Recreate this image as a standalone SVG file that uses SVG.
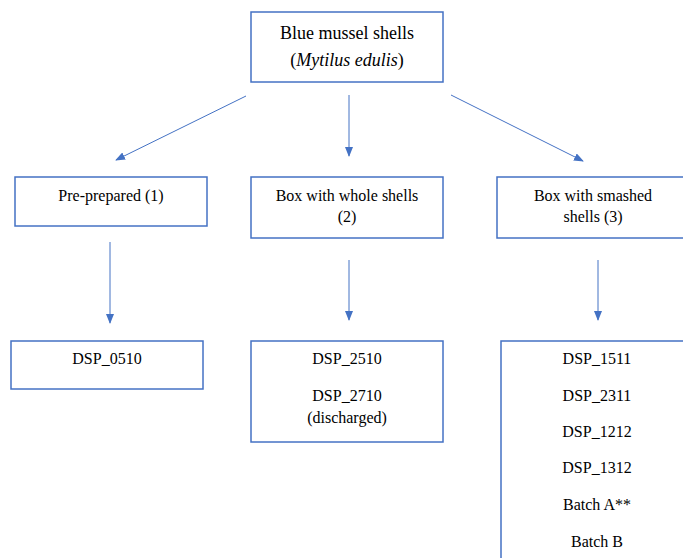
<svg xmlns="http://www.w3.org/2000/svg" width="683" height="558" viewBox="0 0 683 558">
<defs>
<marker id="ah" markerWidth="10" markerHeight="8" refX="9" refY="4" orient="auto" markerUnits="userSpaceOnUse">
<path d="M0,0 L10,4 L0,8 Z" fill="#4472C4"/>
</marker>
</defs>
<rect width="683" height="558" fill="#fff"/>
<g id="connectors" stroke="#4472C4" stroke-width="1" fill="none" marker-end="url(#ah)">
<line x1="246" y1="96" x2="116" y2="160"/>
<line x1="349" y1="95" x2="349" y2="156"/>
<line x1="451" y1="95" x2="583" y2="161"/>
<line x1="110" y1="242" x2="110" y2="323"/>
<line x1="349" y1="260" x2="349" y2="320"/>
<line x1="598" y1="260" x2="598" y2="320"/>
</g>
<g fill="#fff" stroke="#4472C4" stroke-width="1.5">
<rect id="root-box" x="251" y="12" width="192" height="70"/>
<rect id="pre-box" x="15" y="177" width="192" height="49"/>
<rect id="whole-box" x="251" y="177" width="192" height="61"/>
<rect id="smashed-box" x="497" y="177" width="200" height="61"/>
<rect id="dsp0510-box" x="11" y="341" width="192" height="48"/>
<rect id="dsp2510-box" x="251" y="341" width="192" height="101"/>
<rect id="batches-box" x="501" y="341" width="200" height="230"/>
</g>
<g id="root">
<text x="347" y="39" style="font-family:'Liberation Serif';font-size:18px" text-anchor="middle">Blue mussel shells</text>
<text x="347" y="66" style="font-family:'Liberation Serif';font-size:18px" text-anchor="middle">(<tspan font-style="italic">Mytilus edulis</tspan>)</text>
</g>
<g id="pre">
<text x="111" y="201" style="font-family:'Liberation Serif';font-size:16px" text-anchor="middle">Pre-prepared (1)</text>
</g>
<g id="whole">
<text x="347" y="201" style="font-family:'Liberation Serif';font-size:16px" text-anchor="middle">Box with whole shells</text>
<text x="347" y="222" style="font-family:'Liberation Serif';font-size:16px" text-anchor="middle">(2)</text>
</g>
<g id="smashed">
<text x="593" y="201" style="font-family:'Liberation Serif';font-size:16px" text-anchor="middle">Box with smashed</text>
<text x="593" y="222" style="font-family:'Liberation Serif';font-size:16px" text-anchor="middle">shells (3)</text>
</g>
<g id="dsp0510">
<text x="107" y="364" style="font-family:'Liberation Serif';font-size:16px" text-anchor="middle">DSP_0510</text>
</g>
<g id="dsp2510">
<text x="347" y="364" style="font-family:'Liberation Serif';font-size:16px" text-anchor="middle">DSP_2510</text>
<text x="347" y="401" style="font-family:'Liberation Serif';font-size:16px" text-anchor="middle">DSP_2710</text>
<text x="347" y="423" style="font-family:'Liberation Serif';font-size:16px" text-anchor="middle">(discharged)</text>
</g>
<g id="batches">
<text x="597" y="364" style="font-family:'Liberation Serif';font-size:16px" text-anchor="middle">DSP_1511</text>
<text x="597" y="401" style="font-family:'Liberation Serif';font-size:16px" text-anchor="middle">DSP_2311</text>
<text x="597" y="437" style="font-family:'Liberation Serif';font-size:16px" text-anchor="middle">DSP_1212</text>
<text x="597" y="473" style="font-family:'Liberation Serif';font-size:16px" text-anchor="middle">DSP_1312</text>
<text x="597" y="510" style="font-family:'Liberation Serif';font-size:16px" text-anchor="middle">Batch A**</text>
<text x="597" y="547" style="font-family:'Liberation Serif';font-size:16px" text-anchor="middle">Batch B</text>
</g>
</svg>
